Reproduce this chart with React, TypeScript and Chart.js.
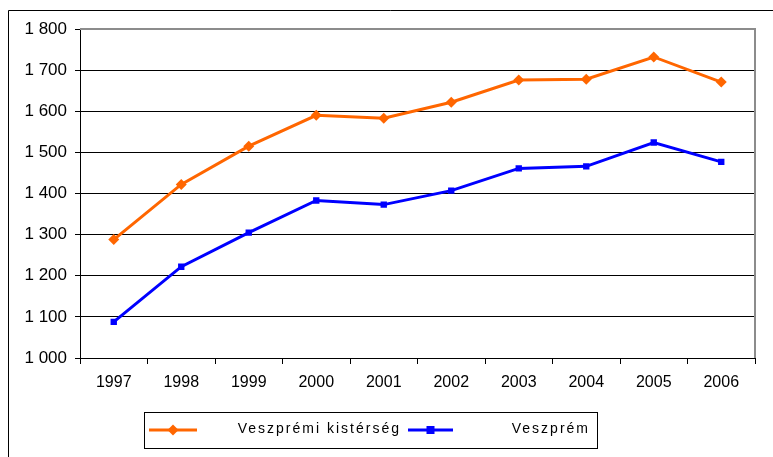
import React, { useEffect, useRef } from "react";
import { Chart, registerables } from "chart.js";

Chart.register(...registerables);

const years = ["1997", "1998", "1999", "2000", "2001", "2002", "2003", "2004", "2005", "2006"];
const kisterseg = [1288, 1422, 1515, 1590, 1583, 1622, 1676, 1678, 1732, 1671];
const veszprem = [1088, 1222, 1305, 1383, 1373, 1407, 1461, 1466, 1524, 1477];
const seriesLabels = ["Veszprémi kistérség", "Veszprém"];
const yTicks = [1000, 1100, 1200, 1300, 1400, 1500, 1600, 1700, 1800];

const FONT = "'Liberation Sans', Arial, sans-serif";

const decorPlugin = {
  id: "decor",
  beforeDraw(chart: any) {
    const { ctx, width, height } = chart;
    ctx.save();
    ctx.fillStyle = "#ffffff";
    ctx.fillRect(0, 0, width, height);
    ctx.strokeStyle = "#000000";
    ctx.lineWidth = 1;
    ctx.beginPath();
    ctx.moveTo(8.5, height);
    ctx.lineTo(8.5, 10.5);
    ctx.lineTo(width, 10.5);
    ctx.stroke();
    ctx.restore();
  },
  afterDatasetsDraw(chart: any) {
    const { ctx, chartArea } = chart;
    ctx.save();
    ctx.strokeStyle = "#8c8c8c";
    ctx.lineWidth = 2;
    ctx.beginPath();
    ctx.moveTo(chartArea.left, chartArea.top);
    ctx.lineTo(chartArea.right, chartArea.top);
    ctx.lineTo(chartArea.right, chartArea.bottom);
    ctx.stroke();
    ctx.restore();
  },
  afterDraw(chart: any) {
    const { ctx } = chart;
    const ds = chart.data.datasets;
    ctx.save();
    ctx.strokeStyle = "#000000";
    ctx.lineWidth = 1;
    ctx.strokeRect(144.5, 412.5, 453, 36);
    const y = 430;
    const items = [
      { x0: 149, x1: 197, tx: 399 },
      { x0: 408, x1: 453, tx: 588 },
    ];
    ds.forEach((d: any, i: number) => {
      const it = items[i];
      ctx.strokeStyle = d.borderColor;
      ctx.lineWidth = 3;
      ctx.beginPath();
      ctx.moveTo(it.x0, y);
      ctx.lineTo(it.x1, y);
      ctx.stroke();
      const cx = (it.x0 + it.x1) / 2;
      ctx.fillStyle = d.borderColor;
      if (d.pointStyle === "rectRot") {
        const r = 5.5;
        ctx.beginPath();
        ctx.moveTo(cx, y - r);
        ctx.lineTo(cx + r, y);
        ctx.lineTo(cx, y + r);
        ctx.lineTo(cx - r, y);
        ctx.closePath();
        ctx.fill();
      } else {
        ctx.fillRect(cx - 4, y - 4, 8, 8);
      }
      ctx.fillStyle = "#000000";
      ctx.font = `14px ${FONT}`;
      (ctx as any).letterSpacing = "2px";
      ctx.textAlign = "right";
      ctx.textBaseline = "middle";
      ctx.fillText(d.label, it.tx + 2, y - 1);
    });
    ctx.restore();
  },
};

export default function App() {
  const ref = useRef<HTMLCanvasElement | null>(null);
  useEffect(() => {
    if (!ref.current) return;
    const chart = new Chart(ref.current, {
      type: "line",
      data: {
        labels: years,
        datasets: [
          {
            label: seriesLabels[0],
            data: kisterseg,
            borderColor: "#ff6600",
            backgroundColor: "#ff6600",
            borderWidth: 3,
            pointStyle: "rectRot",
            pointRadius: 5.5,
            pointHoverRadius: 5.5,
            pointBorderWidth: 0,
            tension: 0,
          },
          {
            label: seriesLabels[1],
            data: veszprem,
            borderColor: "#0000ff",
            backgroundColor: "#0000ff",
            borderWidth: 3,
            pointStyle: "rect",
            pointRadius: 4.5,
            pointHoverRadius: 4.5,
            pointBorderWidth: 0,
            tension: 0,
          },
        ],
      },
      plugins: [decorPlugin],
      options: {
        animation: false,
        responsive: false,
        maintainAspectRatio: false,
        layout: { padding: { top: 29, right: 18, left: 0, bottom: 0 } },
        plugins: {
          legend: { display: false },
          tooltip: { enabled: false },
        },
        scales: {
          x: {
            type: "category",
            offset: true,
            grid: {
              offset: true,
              drawOnChartArea: false,
              drawTicks: true,
              tickLength: 6,
              color: "#000000",
            },
            border: { color: "#000000", width: 1 },
            ticks: {
              color: "#000000",
              font: { family: FONT, size: 16 },
              padding: 9,
              maxRotation: 0,
            },
            afterFit(scale: any) {
              scale.height = 99;
            },
          },
          y: {
            min: 1000,
            max: 1800,
            afterBuildTicks(scale: any) {
              scale.ticks = yTicks.map((v) => ({ value: v }));
            },
            grid: {
              color: "#000000",
              lineWidth: 1,
              tickLength: 5,
            },
            border: { color: "#000000", width: 1 },
            ticks: {
              color: "#000000",
              font: { family: FONT, size: 17 },
              padding: 8,
              callback: (v: any) => {
                const n = Number(v);
                const th = Math.floor(n / 1000);
                const rest = String(n % 1000).padStart(3, "0");
                return `${th} ${rest}`;
              },
            },
            afterFit(scale: any) {
              scale.width = 80;
            },
          },
        },
      },
    });
    return () => chart.destroy();
  }, []);
  return (
    <div style={{ position: "fixed", left: 0, top: 0, width: 773, height: 457, background: "#fff" }}>
      <canvas ref={ref} width={773} height={457} style={{ width: 773, height: 457, display: "block" }} />
    </div>
  );
}
